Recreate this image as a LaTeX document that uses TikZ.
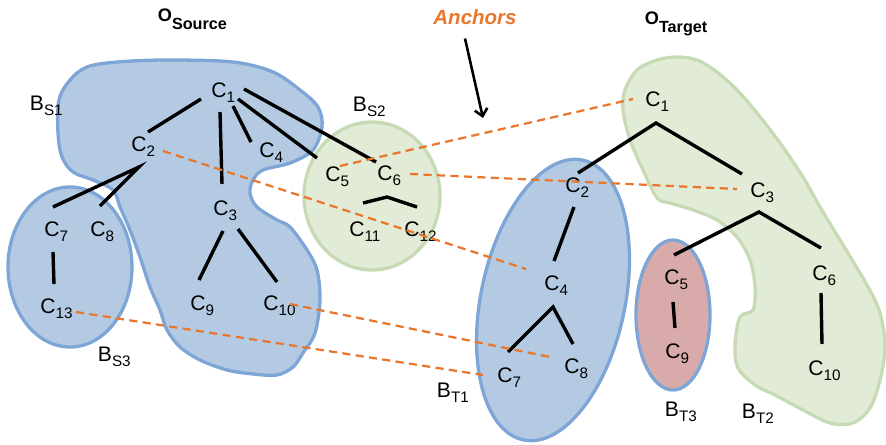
\documentclass[tikz,border=0pt]{standalone}
\usepackage{fontspec}
\setmainfont{Liberation Sans}
\usetikzlibrary{calc,arrows.meta}
\definecolor{bfill}{HTML}{B4CAE2}
\definecolor{bline}{HTML}{7DA5D6}
\definecolor{gfill}{HTML}{E2EBD6}
\definecolor{gline}{HTML}{C6DBB4}
\definecolor{pfill}{HTML}{D9AAAA}
\definecolor{orng}{HTML}{E9762D}
\newcommand\mysub[1]{\smash{\raisebox{-4.3pt}{\fontsize{13}{13}\selectfont #1}}}
\newcommand\cname[2]{#1\rlap{\mysub{#2}}}
\newcommand\tsub[1]{\smash{\raisebox{-3pt}{\fontsize{13.8}{13}\selectfont #1}}}
\begin{document}
\begin{tikzpicture}[x=0.03cm,y=-0.03cm,
  font=\fontsize{18}{20}\selectfont,
  lab/.style={inner sep=0pt,anchor=center},
  ttl/.style={inner sep=0pt,anchor=center,font=\bfseries\fontsize{15.5}{18}\selectfont},
  edge/.style={line width=2.9pt},
  anchorline/.style={orng,line width=1.9pt,dash pattern=on 7pt off 4.5pt},
  blueblob/.style={fill=bfill,draw=bline,line width=2.8pt},
  greenblob/.style={fill=gfill,draw=gline,line width=2.8pt},
  pinkblob/.style={fill=pfill,draw=bline,line width=2.8pt}]
\useasboundingbox (0,0) rectangle (886,445);

% ---------- bubbles ----------
\draw[blueblob] plot[smooth cycle,tension=0.55] coordinates {
 (87,67) (117,62) (167,60) (233,62) (273,72) (300,90) (318,107) (322,127)
 (313,150) (290,163) (263,170) (253,180) (250,193) (257,207) (277,220)
 (290,227) (307,250) (317,270) (320,300) (315,333) (303,353) (293,367)
 (277,375) (253,374) (227,370) (200,360) (180,347) (167,330) (160,310)
 (150,287) (140,257) (130,230) (120,207) (113,190) (93,180) (73,172)
 (62,157) (58,133) (59,100) (70,80)};
\draw[blueblob] (70,267) ellipse [x radius=62, y radius=80];
\draw[greenblob] (372,196) ellipse [x radius=68, y radius=74];
\draw[greenblob] plot[smooth cycle,tension=0.55] coordinates {
 (677,57) (697,60) (717,72) (737,90) (757,113) (780,143) (803,177) (820,207)
 (840,240) (867,285) (880,313) (885,347) (880,380) (870,408) (853,423)
 (830,423) (803,410) (775,395) (755,385) (738,368) (735,345) (740,317)
 (753,310) (755,287) (750,260) (737,237) (717,220) (693,210) (670,203)
 (657,198) (643,170) (630,140) (623,110) (625,90) (637,70) (657,60)};
\draw[blueblob,rotate around={-12:(553,300)}] (553,300) ellipse [x radius=72, y radius=143];
\draw[pinkblob] (673,315) ellipse [x radius=37, y radius=75];

% ---------- titles ----------
\node[ttl] (osrc) at (165,15) {\cname{O}{\tsub{Source}}};
\node[ttl] (otgt) at (652,18) {\cname{O}{\tsub{Target}}};
\node[lab,text=orng,font=\bfseries\itshape\fontsize{17.5}{20}\selectfont] (anch) at (475,17.5) {Anchors};
\coordinate (arrtip) at (483,118);
\draw[line width=2.2pt,-{Straight Barb[length=6pt,width=11pt]}] ($(anch)+(-10,21)$) -- (arrtip);

% ---------- bubble labels ----------
\node[lab] (bs1) at (37,103) {\cname{B}{S1}};
\node[lab] (bs2) at (360,104) {\cname{B}{S2}};
\node[lab] (bs3) at (105,354) {\cname{B}{S3}};
\node[lab] (bt1) at (444,390) {\cname{B}{T1}};
\node[lab] (bt3) at (672,409) {\cname{B}{T3}};
\node[lab] (bt2) at (749,411) {\cname{B}{T2}};

% ---------- source concepts ----------
\node[lab] (s1) at (219,90) {\cname{C}{1}};
\node[lab] (s2) at (139,144) {\cname{C}{2}};
\node[lab] (s3) at (221,208) {\cname{C}{3}};
\node[lab] (s4) at (267,150) {\cname{C}{4}};
\node[lab] (s5) at (333,174) {\cname{C}{5}};
\node[lab] (s6) at (385,173) {\cname{C}{6}};
\node[lab] (s7) at (52,229) {\cname{C}{7}};
\node[lab] (s8) at (98,229) {\cname{C}{8}};
\node[lab] (s9) at (198,303) {\cname{C}{9}};
\node[lab] (s10) at (271,303) {\cname{C}{10}};
\node[lab] (s11) at (357,229) {\cname{C}{11}};
\node[lab] (s12) at (412,229) {\cname{C}{12}};
\node[lab] (s13) at (48,306) {\cname{C}{13}};

% ---------- target concepts ----------
\node[lab] (t1) at (653,99) {\cname{C}{1}};
\node[lab] (t2) at (573,185) {\cname{C}{2}};
\node[lab] (t3) at (758,190) {\cname{C}{3}};
\node[lab] (t4) at (552,283) {\cname{C}{4}};
\node[lab] (t5) at (672,277) {\cname{C}{5}};
\node[lab] (t6) at (820,273) {\cname{C}{6}};
\node[lab] (t7) at (505,375) {\cname{C}{7}};
\node[lab] (t8) at (572,366) {\cname{C}{8}};
\node[lab] (t9) at (673,351) {\cname{C}{9}};
\node[lab] (t10) at (816,368) {\cname{C}{10}};

% ---------- source tree ----------
\draw[edge] ($(s1)+(-18,9)$) -- ($(s2)+(9,-12)$);
\draw[edge] ($(s1)+(1,22)$) -- ($(s3)+(1,-24)$);
\draw[edge] ($(s1)+(14,16)$) -- ($(s4)+(-16,-8)$);
\draw[edge] ($(s1)+(19,9)$) -- ($(s5)+(-16,-16)$);
\draw[edge] ($(s1)+(25,-1)$) -- ($(s6)+(-9,-11)$);
\coordinate (fs2) at ($(s2)+(0,23)$);
\draw[edge] ($(s7)+(1,-22)$) -- (fs2) -- ($(s8)+(2,-23)$);
\draw[edge] ($(s7)+(1,23)$) -- ($(s13)+(6,-22)$);
\draw[edge] ($(s3)+(2,23)$) -- ($(s9)+(1,-23)$);
\draw[edge] ($(s3)+(17,21)$) -- ($(s10)+(6,-21)$);
\coordinate (fs6) at ($(s6)+(2,24)$);
\draw[edge] ($(s11)+(6,-26)$) -- (fs6) -- ($(s12)+(5,-22)$);

% ---------- target tree ----------
\coordinate (ft1) at ($(t1)+(3,24)$);
\draw[edge] ($(t2)+(5,-12)$) -- (ft1) -- ($(t3)+(-16,-16)$);
\draw[edge] ($(t2)+(1,22)$) -- ($(t4)+(2,-22)$);
\coordinate (ft3) at ($(t3)+(1,22)$);
\draw[edge] ($(t5)+(2,-22)$) -- (ft3) -- ($(t6)+(1,-25)$);
\coordinate (ft4) at ($(t4)+(1,24)$);
\draw[edge] ($(t7)+(3,-23)$) -- (ft4) -- ($(t8)+(1,-22)$);
\draw[edge] ($(t5)+(1,25)$) -- ($(t9)+(2,-23)$);
\draw[edge] ($(t6)+(1,20)$) -- ($(t10)+(6,-24)$);

% ---------- anchors ----------
\draw[anchorline] ($(s5)+(7,-8)$) -- ($(t1)+(-20,0)$);
\draw[anchorline] ($(s6)+(25,1)$) -- ($(t3)+(-21,-1)$);
\draw[anchorline] ($(s2)+(24,7)$) -- ($(t4)+(-26,-14)$);
\draw[anchorline] ($(s10)+(19,1)$) -- ($(t8)+(-22,-9)$);
\draw[anchorline] ($(s13)+(28,6)$) -- ($(t7)+(-22,0)$);
\end{tikzpicture}
\end{document}
